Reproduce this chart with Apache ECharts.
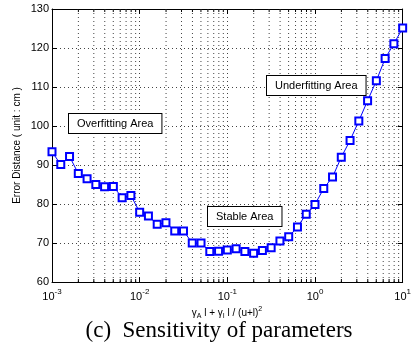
<!DOCTYPE html>
<html>
<head>
<meta charset="utf-8">
<script src="https://cdn.jsdelivr.net/npm/echarts@6/dist/echarts.min.js"></script>
<style>html,body{margin:0;padding:0;background:#fff}#c{width:414px;height:348px}</style>
</head>
<body>
<div id="c"></div>
<script>
// x values (log axis), one point every 0.1 decade
const xValues = [0.001, 0.001259, 0.001585, 0.001995, 0.002512, 0.003162, 0.003981, 0.005012, 0.00631, 0.007943,
  0.01, 0.01259, 0.01585, 0.01995, 0.02512, 0.03162, 0.03981, 0.05012, 0.0631, 0.07943,
  0.1, 0.1259, 0.1585, 0.1995, 0.2512, 0.3162, 0.3981, 0.5012, 0.631, 0.7943,
  1, 1.259, 1.585, 1.995, 2.512, 3.162, 3.981, 5.012, 6.31, 7.943, 10];
// error distance (cm)
const errorValues = [93.4, 90.1, 92.2, 87.8, 86.5, 85.0, 84.4, 84.5, 81.6, 82.2,
  77.9, 76.9, 74.8, 75.2, 73.1, 73.1, 70.0, 70.0, 67.8, 67.9,
  68.2, 68.5, 67.8, 67.4, 68.1, 68.8, 70.5, 71.6, 74.1, 77.4,
  79.9, 84.0, 86.9, 92.0, 96.3, 101.3, 106.5, 111.6, 117.3, 121.1, 125.1];
// minor log positions (2..9 within each decade)
const minorX = [0.002,0.003,0.004,0.005,0.006,0.007,0.008,0.009,
  0.02,0.03,0.04,0.05,0.06,0.07,0.08,0.09,
  0.2,0.3,0.4,0.5,0.6,0.7,0.8,0.9,
  2,3,4,5,6,7,8,9];
const xMin = 0.001, xMax = 10, yMin = 60, yMax = 130;
const annotations = [
  {text: 'Overfitting Area', left: 68, top: 113},
  {text: 'Underfitting Area', left: 266, top: 75},
  {text: 'Stable Area', left: 207, top: 206}
];

const FONT = 'Liberation Sans, Arial, sans-serif';
const chart = echarts.init(document.getElementById('c'), null, {renderer: 'canvas'});

const supFmt = v => {
  const e = Math.round(Math.log10(v));
  return '{b|10}{s|' + e + '}';
};

const option = {
  animation: false,
  backgroundColor: '#fff',
  grid: {left: 52, right: 10, top: 9, bottom: 66, containLabel: false},
  xAxis: [{
    type: 'log', logBase: 10, min: xMin, max: xMax, splitNumber: 4,
    axisLine: {show: true, onZero: false, lineStyle: {color: '#000', width: 1}},
    axisTick: {show: true, inside: true, length: 5, lineStyle: {color: '#000'}},
    axisLabel: {
      formatter: supFmt, margin: 6, color: '#000',
      rich: {
        b: {fontSize: 11, fontFamily: FONT, color: '#000', verticalAlign: 'bottom', lineHeight: 14},
        s: {fontSize: 8, fontFamily: FONT, color: '#000', verticalAlign: 'top', padding: [0,0,7,0], lineHeight: 14}
      }
    },
    splitLine: {show: true, lineStyle: {type: [1, 3], color: '#444', width: 1}}
  }, {
    type: 'log', logBase: 10, min: xMin, max: xMax, splitNumber: 4, position: 'top',
    axisLine: {show: true, onZero: false, lineStyle: {color: '#000', width: 1}},
    axisTick: {show: true, inside: true, length: 5, lineStyle: {color: '#000'}},
    axisLabel: {show: false}, splitLine: {show: false}
  }],
  yAxis: [{
    type: 'value', min: yMin, max: yMax, interval: 10,
    name: 'Error Distance ( unit : cm )', nameLocation: 'middle', nameGap: 30,
    nameMoveOverlap: false,
    nameTextStyle: {fontSize: 10, fontFamily: FONT, color: '#000'},
    axisLine: {show: true, onZero: false, lineStyle: {color: '#000', width: 1}},
    axisTick: {show: true, inside: true, length: 5, lineStyle: {color: '#000'}},
    axisLabel: {fontSize: 11, fontFamily: FONT, color: '#000', margin: 3},
    splitLine: {show: true, lineStyle: {type: [1, 3], color: '#444', width: 1}}
  }, {
    type: 'value', min: yMin, max: yMax, interval: 10, position: 'right',
    axisLine: {show: true, onZero: false, lineStyle: {color: '#000', width: 1}},
    axisTick: {show: true, inside: true, length: 5, lineStyle: {color: '#000'}},
    axisLabel: {show: false}, splitLine: {show: false}
  }],
  series: [{
    type: 'custom',
    silent: true,
    xAxisIndex: 0, yAxisIndex: 0,
    data: minorX.map(v => [v]),
    encode: {x: 0},
    renderItem: function (params, api) {
      const v = api.value(0);
      const b = api.coord([v, yMin]);
      const t = api.coord([v, yMax]);
      const st = {stroke: '#000', lineWidth: 1};
      return {type: 'group', children: [
        {type: 'line', shape: {x1: b[0], y1: t[1], x2: b[0], y2: b[1]}, style: {stroke: '#444', lineWidth: 1, lineDash: [1, 3]}},
        {type: 'line', shape: {x1: b[0], y1: b[1], x2: b[0], y2: b[1] - 3}, style: st},
        {type: 'line', shape: {x1: t[0], y1: t[1], x2: t[0], y2: t[1] + 3}, style: st}
      ]};
    },
    z: 1
  }, {
    type: 'line',
    data: xValues.map((x, i) => [x, errorValues[i]]),
    symbol: 'emptyRect', symbolSize: 7,
    lineStyle: {color: '#0000ff', width: 1},
    itemStyle: {color: '#0000ff', borderWidth: 1},
    z: 5
  }],
  graphic: [
    ...annotations.map(a => ({
      type: 'text', left: a.left, top: a.top, z: 100,
      style: {text: a.text, font: '11px ' + FONT, fill: '#000',
        backgroundColor: '#fff', borderColor: '#000', borderWidth: 1, padding: [4, 8, 4, 8]}
    })),
    {
      type: 'text', x: 227, y: 306, z: 100,
      style: {
        align: 'center',
        text: '{n|γ}{sub|A}{n| l + γ}{sub|I}{n| l / (u+l)}{sup|2}',
        rich: {
          n: {fontSize: 10, fontFamily: FONT, color: '#000'},
          sub: {fontSize: 7, fontFamily: FONT, color: '#000', padding: [6, 0, 0, 0]},
          sup: {fontSize: 7, fontFamily: FONT, color: '#000', padding: [0, 0, 7, 0]}
        }
      }
    },
    {
      type: 'text', x: 219, y: 319, z: 100,
      style: {align: 'center', text: '(c)  Sensitivity of parameters', font: '23px "Liberation Serif", "Times New Roman", serif', fill: '#000'}
    }
  ]
};
chart.setOption(option);
</script>
</body>
</html>
